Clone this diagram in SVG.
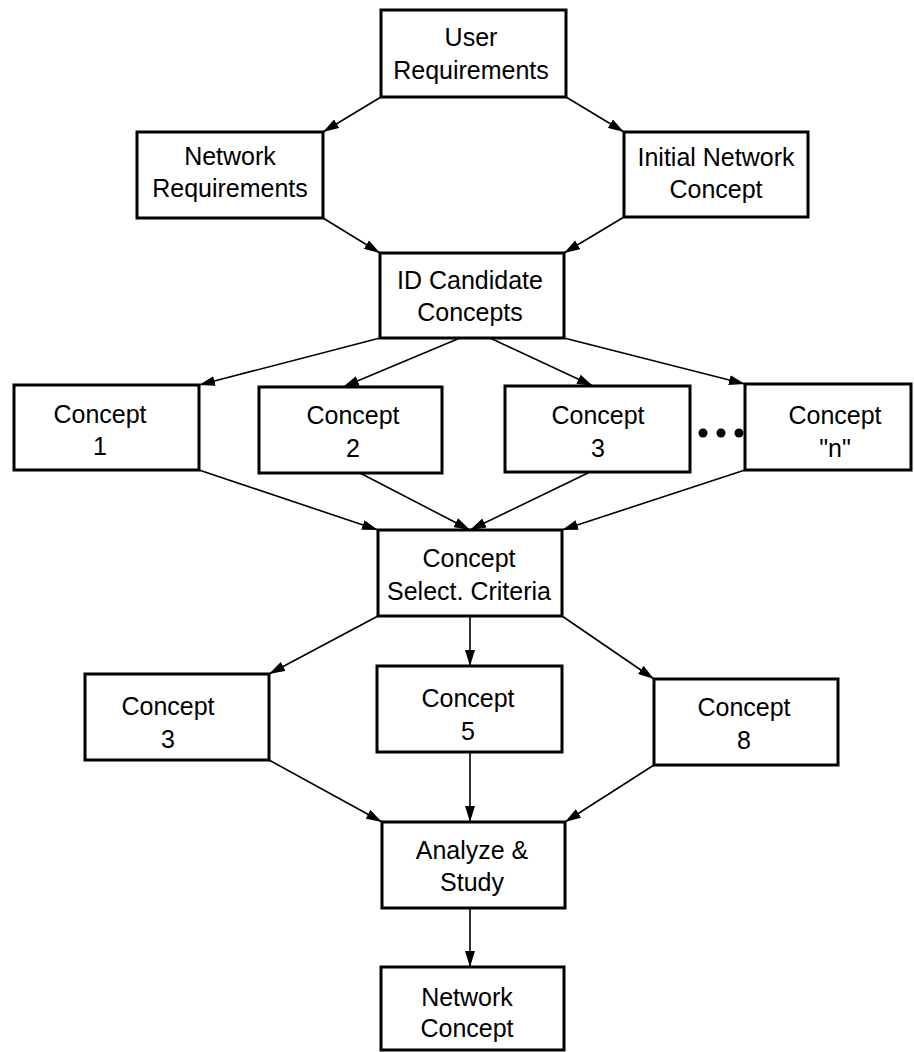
<svg xmlns="http://www.w3.org/2000/svg" width="914" height="1052" viewBox="0 0 914 1052">
<style>
.box{fill:#fff;stroke:#000;stroke-width:3}
.t{font-family:"Liberation Sans",Arial,Helvetica,sans-serif;font-size:25px;fill:#000;text-anchor:middle}
.c{stroke:#000;stroke-width:1.6;fill:none;marker-end:url(#ah)}
</style>
<defs>
<marker id="ah" viewBox="0 0 16 10" refX="16" refY="5" markerWidth="16" markerHeight="10" markerUnits="userSpaceOnUse" orient="auto">
<path d="M0,0 L16,5 L0,10 z" fill="#000"/>
</marker>
</defs>
<rect width="914" height="1052" fill="#fff"/>
<g id="connectors">
<line class="c" x1="381" y1="97" x2="323" y2="132"/>
<line class="c" x1="566" y1="97" x2="624" y2="132"/>
<line class="c" x1="323" y1="218" x2="380" y2="253"/>
<line class="c" x1="624" y1="217" x2="564" y2="253"/>
<line class="c" x1="380" y1="338" x2="199" y2="385"/>
<line class="c" x1="460" y1="338" x2="343" y2="387"/>
<line class="c" x1="490" y1="338" x2="593" y2="386"/>
<line class="c" x1="564" y1="338" x2="745" y2="384"/>
<line class="c" x1="199" y1="470" x2="378" y2="530"/>
<line class="c" x1="360" y1="473" x2="470" y2="530"/>
<line class="c" x1="590" y1="472" x2="470" y2="530"/>
<line class="c" x1="745" y1="470" x2="562" y2="530"/>
<line class="c" x1="378" y1="616" x2="269" y2="674"/>
<line class="c" x1="470" y1="616" x2="470" y2="666"/>
<line class="c" x1="562" y1="616" x2="654" y2="679"/>
<line class="c" x1="269" y1="760" x2="382" y2="822"/>
<line class="c" x1="470" y1="752" x2="470" y2="822"/>
<line class="c" x1="654" y1="765" x2="565" y2="822"/>
<line class="c" x1="470" y1="908" x2="470" y2="967"/>
</g>
<g id="user-requirements">
<rect class="box" x="381" y="10" width="185" height="87"/>
<text class="t" x="471" y="46">User</text>
<text class="t" x="471" y="79">Requirements</text>
</g>
<g id="network-requirements">
<rect class="box" x="137" y="132" width="186" height="86"/>
<text class="t" x="230" y="165">Network</text>
<text class="t" x="230" y="197">Requirements</text>
</g>
<g id="initial-network-concept">
<rect class="box" x="624" y="132" width="184" height="85"/>
<text class="t" x="716" y="166">Initial Network</text>
<text class="t" x="716" y="198">Concept</text>
</g>
<g id="id-candidate-concepts">
<rect class="box" x="380" y="253" width="184" height="85"/>
<text class="t" x="470" y="289">ID Candidate</text>
<text class="t" x="470" y="321">Concepts</text>
</g>
<g id="concept-1">
<rect class="box" x="14" y="385" width="185" height="85"/>
<text class="t" x="100" y="423">Concept</text>
<text class="t" x="100" y="455">1</text>
</g>
<g id="concept-2">
<rect class="box" x="259" y="387" width="183" height="86"/>
<text class="t" x="353" y="424">Concept</text>
<text class="t" x="353" y="457">2</text>
</g>
<g id="concept-3a">
<rect class="box" x="505" y="386" width="185" height="86"/>
<text class="t" x="598" y="424">Concept</text>
<text class="t" x="598" y="457">3</text>
</g>
<g id="ellipsis">
<circle cx="703" cy="433" r="4.5" fill="#000"/>
<circle cx="721" cy="433" r="4.5" fill="#000"/>
<circle cx="739" cy="433" r="4.5" fill="#000"/>
</g>
<g id="concept-n">
<rect class="box" x="745" y="384" width="166" height="86"/>
<text class="t" x="835" y="424">Concept</text>
<text class="t" x="835" y="457">"n"</text>
</g>
<g id="concept-select-criteria">
<rect class="box" x="378" y="530" width="184" height="86"/>
<text class="t" x="469" y="567">Concept</text>
<text class="t" x="469" y="600">Select. Criteria</text>
</g>
<g id="concept-3b">
<rect class="box" x="85" y="674" width="184" height="86"/>
<text class="t" x="168" y="715">Concept</text>
<text class="t" x="168" y="748">3</text>
</g>
<g id="concept-5">
<rect class="box" x="377" y="666" width="185" height="86"/>
<text class="t" x="468" y="707">Concept</text>
<text class="t" x="468" y="740">5</text>
</g>
<g id="concept-8">
<rect class="box" x="654" y="679" width="184" height="86"/>
<text class="t" x="744" y="716">Concept</text>
<text class="t" x="744" y="749">8</text>
</g>
<g id="analyze-study">
<rect class="box" x="382" y="822" width="183" height="86"/>
<text class="t" x="472" y="859">Analyze &amp;</text>
<text class="t" x="472" y="891">Study</text>
</g>
<g id="network-concept">
<rect class="box" x="381" y="967" width="183" height="83"/>
<text class="t" x="467" y="1006">Network</text>
<text class="t" x="467" y="1037">Concept</text>
</g>
</svg>
